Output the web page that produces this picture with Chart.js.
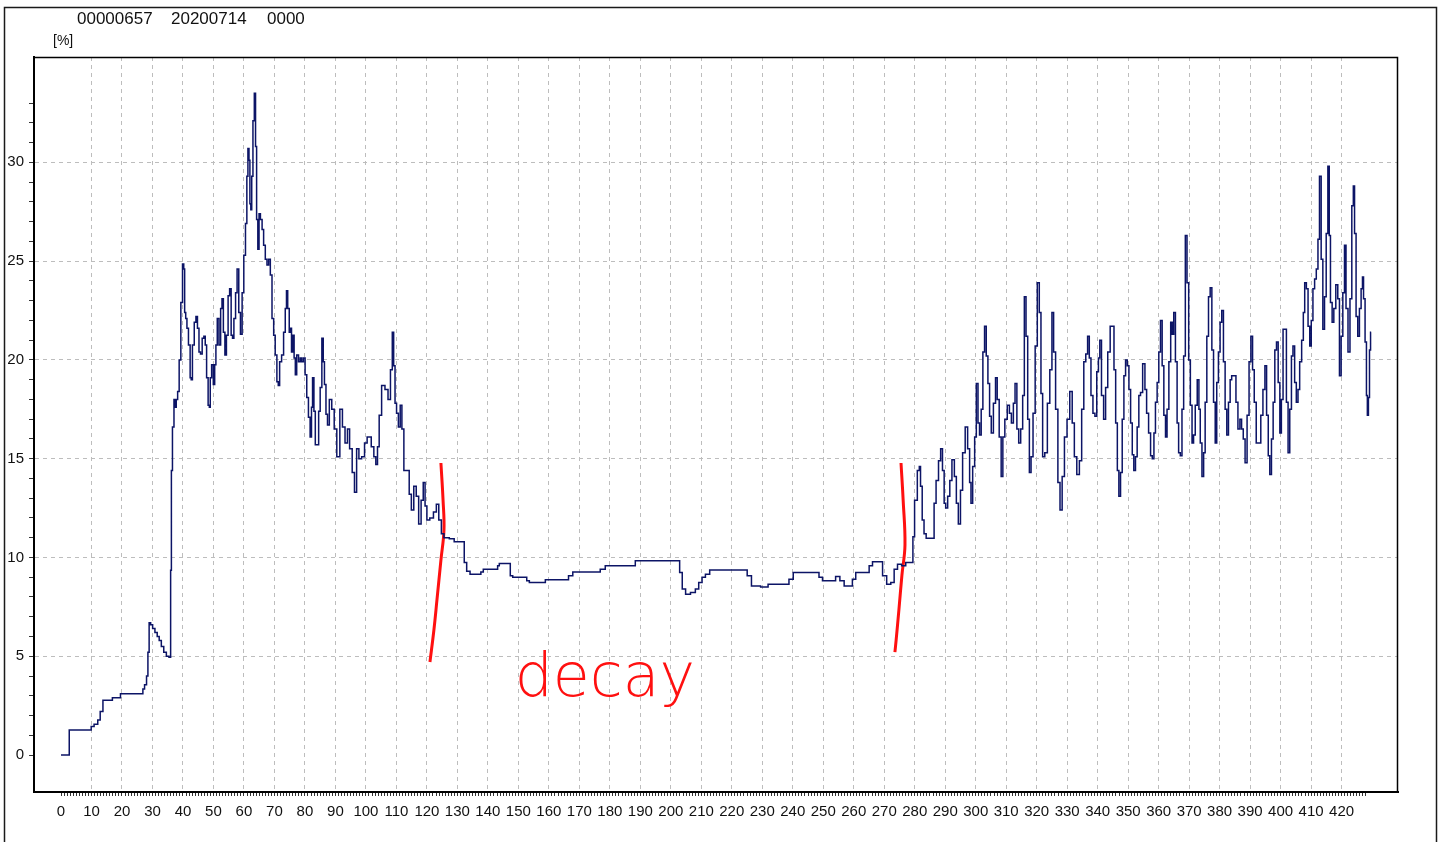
<!DOCTYPE html>
<html><head><meta charset="utf-8">
<script src="https://cdn.jsdelivr.net/npm/chart.js@4.4.1/dist/chart.umd.min.js"></script>
<style>html,body{margin:0;padding:0;background:#fff;overflow:hidden}canvas{display:block}</style>
</head><body>
<canvas id="c" width="1442" height="842"></canvas>
<script>
// ---- header / labels ----
const headerTexts = ['00000657', '20200714', '0000'];
const unitLabel = '[%]';
const annotationText = 'decay';

// ---- tick labels ----
const xTickLabels = [0,10,20,30,40,50,60,70,80,90,100,110,120,130,140,150,160,170,180,190,200,210,220,230,240,250,260,270,280,290,300,310,320,330,340,350,360,370,380,390,400,410,420];
const yTickLabels = [0,5,10,15,20,25,30];

// ---- series (x = sample index, y = %) ----
const riseX = [0, 2.6, 2.8, 9.8, 10.0, 11.7, 12.4, 13.3, 14.2, 16.6, 17.1, 18.8, 20.2, 26.7, 27.0, 27.8, 28.3, 28.7, 29.1, 29.7, 30.4, 31.2, 31.9, 32.5, 33.3, 34.1, 35.0, 35.8, 36.1];
const riseY = [0, 0, 1.27, 1.27, 1.45, 1.56, 1.78, 2.2, 2.78, 2.78, 2.9, 2.9, 3.1, 3.1, 3.34, 3.56, 4.0, 5.2, 6.7, 6.6, 6.4, 6.2, 6.0, 5.8, 5.5, 5.2, 5.0, 4.95, 9.35];

const surgeX = [36.3, 36.8, 37.3, 37.6, 38.0, 38.5, 39.0, 39.6, 40.1, 40.4,
  40.7, 41.1, 41.5, 42.1, 42.6, 42.8, 43.4, 44.0, 44.5, 45.0,
  45.5, 46.0, 46.6, 47.1, 47.5, 48.0, 48.5, 48.8, 49.1, 49.7,
  50.2, 50.6, 51.0, 51.5, 52.1, 52.6, 53.0, 53.5, 54.0, 54.5,
  55.1, 55.5, 56.1, 56.4, 57.0, 57.5, 58.0, 58.6, 59.1, 59.7,
  60.2, 60.8, 61.1, 61.5, 61.8, 62.1, 62.4, 62.7, 63.2, 63.6,
  64.0, 64.3, 64.8, 65.1, 65.7, 66.2, 66.7, 67.3, 67.8, 68.4,
  68.9, 69.5, 70.0, 70.5, 71.1, 71.4, 72.0, 72.7, 73.3, 73.8,
  74.1, 74.6, 75.1, 75.4, 75.8, 76.2, 76.7, 77.0, 77.6, 78.2,
  78.7, 79.2, 79.8, 80.3, 80.9, 81.4, 82.0, 82.3, 82.7, 83.2,
  83.6, 84.3, 84.7, 85.3, 85.8, 86.2, 86.6, 87.2, 87.6];
const surgeY = [14.4, 16.6, 18.0, 17.6, 18.0, 18.4, 20.0, 22.9, 24.85, 24.6,
  22.4, 22.1, 21.6, 20.75, 19.1, 19.0, 20.75, 21.9, 22.2, 21.6,
  20.4, 20.3, 21.1, 21.2, 20.75, 19.1, 17.7, 17.6, 19.1, 19.75,
  18.75, 19.75, 20.75, 22.1, 20.75, 22.6, 23.1, 21.4, 20.25, 21.25,
  23.25, 23.6, 21.25, 21.1, 22.1, 23.4, 24.6, 22.4, 21.3, 23.4,
  25.3, 26.9, 29.3, 30.7, 30.1, 27.9, 27.6, 29.3, 32.1, 33.5,
  30.8, 27.1, 25.6, 27.4, 27.1, 26.6, 25.8, 25.1, 24.8, 25.1,
  24.3, 22.1, 21.25, 20.25, 18.9, 18.7, 19.9, 20.25, 21.4, 22.6,
  23.5, 22.6, 21.4, 21.6, 20.4, 21.25, 20.1, 19.25, 20.25, 19.9,
  20.1, 19.9, 20.1, 19.25, 18.1, 17.1, 16.1, 17.6, 19.1, 17.4,
  15.7, 15.7, 17.4, 18.6, 21.1, 19.9, 18.75, 17.25, 16.7];

const declineX = [88.4, 89.2, 90.0, 90.9, 92.0, 92.6, 93.7, 94.2, 95.1, 95.9,
  96.6, 97.3, 98.1, 99.1, 100.0, 100.8, 101.3, 102.2, 103.0, 103.5,
  104.1, 104.6, 105.7, 106.8, 107.7, 108.4, 108.9, 109.3, 109.8, 110.3,
  111.0, 111.5, 112.1, 112.8, 113.9, 114.5, 115.3, 116.1, 116.9, 117.7,
  118.5, 119.1, 119.7, 120.3, 121.6, 122.7, 123.5, 124.3, 125.2, 126.0,
  128.7, 129.2, 132.0];
const declineY = [18.0, 17.5, 16.5, 15.1, 17.5, 16.6, 15.8, 16.5, 15.5, 14.3,
  13.3, 15.5, 15.0, 15.1, 15.8, 16.1, 16.1, 15.6, 15.1, 14.7,
  15.6, 17.2, 18.7, 18.5, 18.0, 19.5, 21.4, 19.7, 17.8, 17.3,
  16.6, 17.7, 16.5, 14.4, 14.4, 13.2, 12.4, 13.6, 13.1, 11.7,
  12.9, 13.8, 12.6, 11.9, 12.0, 12.3, 12.7, 11.9, 11.2, 11.0,
  10.95, 10.8, 10.8];

const decayX = [132.5, 133.6, 134.7, 137.4, 138.0, 139.0, 142.9, 143.5, 144.0, 146.8,
  147.9, 148.4, 152.2, 153.3, 153.9, 158.3, 159.4, 165.9, 167.0, 168.7,
  176.3, 177.4, 179.6, 187.8, 188.9, 202.6, 203.2, 204.3, 205.4, 207.5,
  208.6, 209.7, 210.8, 211.9, 213.6, 224.5, 225.6, 227.3, 231.6, 232.2,
  238.2, 239.3, 241.0, 248.0, 249.2, 250.3, 253.5, 254.6, 256.3, 257.4,
  259.0, 260.1, 261.2, 264.5, 265.6, 266.7, 268.9, 270.0, 271.6, 272.7,
  273.8, 274.9, 276.5, 277.6, 279.2];
const decayY = [9.75, 9.3, 9.15, 9.15, 9.27, 9.4, 9.4, 9.58, 9.7, 9.7,
  9.07, 9.0, 9.0, 8.82, 8.73, 8.73, 8.87, 8.87, 9.07, 9.27,
  9.27, 9.4, 9.58, 9.58, 9.83, 9.83, 9.24, 8.4, 8.14, 8.23,
  8.4, 8.73, 9.0, 9.15, 9.37, 9.37, 9.07, 8.56, 8.51, 8.65,
  8.65, 8.9, 9.24, 9.24, 9.0, 8.82, 8.82, 9.04, 8.82, 8.56,
  8.56, 8.9, 9.24, 9.24, 9.58, 9.78, 9.78, 9.07, 8.65, 8.73,
  9.4, 9.66, 9.58, 9.75, 9.75];

const recoveryX = [279.6, 280.3, 281.4, 281.6, 282.2, 282.7, 283.4, 284.1, 286.1, 286.6,
  287.4, 288.2, 288.8, 289.4, 289.9, 290.4, 291.2, 291.8, 292.6, 293.4,
  293.9, 294.7, 295.3, 296.1, 297.0, 297.7, 298.3, 298.6, 299.4, 299.9,
  300.5, 301.0, 301.5, 302.1, 302.6, 303.2, 303.7, 304.3, 304.8, 305.4,
  306.2, 306.8, 307.3, 308.1, 308.6, 309.2, 309.9, 310.8, 311.3, 312.1,
  312.6, 313.2, 313.8, 314.4, 315.1, 315.7, 316.2, 316.8, 317.3, 317.9,
  318.4, 319.2, 319.8, 320.6, 321.1, 321.7, 322.2, 323.1, 323.9, 324.7,
  325.3, 325.8, 326.6, 327.3, 328.0, 328.7, 329.5, 330.4, 331.3, 332.0,
  332.7, 333.6, 334.4, 335.1, 335.8, 336.4, 337.0, 337.5, 338.1, 338.8,
  339.4, 340.0, 340.5, 340.9, 341.6, 342.3, 342.9, 343.7, 344.5, 345.1,
  345.6, 346.2, 346.7, 347.2, 347.8, 348.3, 348.9, 349.4, 350.0, 350.5,
  351.1, 351.6, 352.1, 352.7, 353.2, 353.8];
const recoveryY = [11.05, 12.9, 14.4, 14.6, 13.6, 11.9, 11.2, 10.97, 10.97, 12.75,
  13.9, 14.9, 15.5, 14.4, 12.75, 12.5, 13.1, 13.9, 14.95, 14.1,
  12.75, 11.7, 13.4, 15.3, 16.6, 15.5, 13.8, 12.75, 14.6, 16.1,
  18.8, 16.8, 16.2, 17.5, 20.4, 21.7, 20.2, 18.8, 17.15, 16.3,
  17.8, 19.1, 18.0, 16.1, 14.1, 16.1, 17.0, 17.7, 17.3, 16.8,
  17.8, 18.8, 16.5, 15.8, 16.5, 18.2, 23.2, 21.2, 17.0, 14.3,
  15.1, 17.3, 20.7, 23.9, 22.4, 18.3, 15.1, 15.3, 17.8, 19.5,
  22.4, 20.4, 17.5, 13.8, 12.4, 14.1, 16.1, 17.0, 18.4, 16.8,
  15.1, 14.2, 14.9, 17.5, 19.9, 20.3, 21.2, 20.1, 18.2, 17.3,
  17.15, 19.4, 20.1, 21.0, 18.2, 17.0, 18.6, 20.4, 21.7, 21.7,
  19.5, 16.8, 14.4, 13.1, 14.3, 17.0, 19.2, 20.0, 19.7, 18.5,
  16.8, 15.2, 14.4, 15.1, 16.6, 18.2];

const finalX = [354.3, 355.2, 355.8, 356.3, 357.1, 357.6, 358.2, 358.7, 359.2, 359.8,
  360.3, 360.9, 361.4, 362.0, 362.5, 363.0, 363.7, 364.2, 364.7, 365.2,
  365.8, 366.3, 366.8, 367.4, 367.9, 368.5, 369.0, 369.6, 370.1, 370.7,
  371.2, 371.7, 372.3, 373.0, 373.4, 373.9, 374.5, 375.0, 375.5, 376.1,
  376.6, 377.2, 377.7, 378.3, 378.8, 379.3, 379.9, 380.4, 381.0, 381.5,
  382.1, 382.6, 383.2, 383.7, 384.2, 385.1, 385.6, 386.4, 386.9, 387.5,
  388.0, 388.7, 389.3, 390.0, 390.5, 391.1, 391.6, 392.4, 393.2, 393.8,
  394.6, 395.1, 395.7, 396.2, 396.7, 397.3, 397.8, 398.4, 398.9, 399.5,
  400.0, 400.5, 401.1, 401.6, 402.2, 402.7, 403.3, 403.8, 404.3, 404.9,
  405.4, 406.0, 406.5, 407.3, 407.6, 408.2, 408.7, 409.3, 409.8, 410.3,
  410.9, 411.4, 412.0, 412.5, 413.0, 413.6, 414.1, 414.7, 415.2, 415.8,
  416.1, 416.6, 417.2, 417.7, 418.5, 419.0, 419.6, 420.1, 420.7, 421.2,
  421.7, 422.5, 423.0, 423.7, 424.0, 424.5, 425.0, 425.6, 426.1, 426.7,
  427.0, 427.4, 428.0, 428.3, 428.6, 429.0, 429.3, 429.7];
const finalY = [18.35, 19.8, 18.5, 17.3, 16.3, 15.15, 15.0, 16.3, 17.85, 18.85,
  20.4, 22.0, 19.7, 17.2, 16.1, 17.5, 19.9, 21.9, 21.3, 22.4,
  19.9, 16.8, 15.3, 15.15, 17.5, 20.2, 26.3, 23.9, 20.0, 17.7,
  15.8, 16.2, 17.7, 19.0, 17.5, 15.8, 14.1, 15.3, 17.85, 21.2,
  23.2, 23.65, 20.5, 17.85, 15.8, 18.85, 20.4, 21.9, 22.5, 19.9,
  17.5, 16.2, 17.85, 19.0, 19.2, 19.2, 17.85, 16.5, 17.0, 16.5,
  16.0, 14.8, 17.2, 19.9, 21.2, 19.5, 17.85, 15.8, 15.8, 17.2,
  18.5, 19.7, 17.2, 15.15, 14.2, 16.0, 17.85, 20.5, 20.9, 18.85,
  16.3, 18.0, 21.55, 21.55, 17.85, 15.3, 17.5, 20.2, 20.7, 18.85,
  17.85, 18.5, 19.9, 21.0, 22.4, 23.9, 23.6, 21.7, 20.7, 22.0,
  23.6, 24.1, 24.6, 26.1, 29.3, 25.1, 21.55, 23.2, 26.4, 29.8,
  26.3, 22.9, 21.9, 22.6, 23.8, 23.1, 19.2, 21.2, 23.4, 25.8,
  22.6, 20.4, 23.1, 27.8, 28.8, 26.4, 22.2, 21.2, 22.6, 23.6,
  24.2, 23.1, 20.9, 18.2, 17.2, 18.1, 20.5, 21.4];

// ---- hand-drawn annotation strokes (data coordinates) ----
const cutLeftX = [124.6, 125.3, 125.6, 124.6, 123.3, 122.3, 121.0];
const cutLeftY = [14.78, 12.9, 11.39, 9.87, 7.85, 6.33, 4.71];
const cutRightX = [275.5, 276.2, 276.8, 275.8, 274.8, 273.9, 273.5];
const cutRightY = [14.78, 12.9, 10.63, 9.11, 7.34, 5.82, 5.21];
const annotationAt = [148.8, 3.0];

// ---- build ----
const segX = [riseX, surgeX, declineX, decayX, recoveryX, finalX];
const segY = [riseY, surgeY, declineY, decayY, recoveryY, finalY];
const seriesPoints = [];
segX.forEach((xs, s) => xs.forEach((x, i) => seriesPoints.push({x: x, y: segY[s][i]})));
const toPts = (xs, ys) => xs.map((x, i) => ({x: x, y: ys[i]}));

const xAllTicks = [];
for (let v = 0; v <= 428; v++) xAllTicks.push(v);
const yAllTicks = [];
for (let v = 0; v <= 33; v++) yAllTicks.push(v);

const GRID = '#bdbdbd';
const FONT = 'Liberation Sans, Arial, sans-serif';

const decorPlugin = {
  id: 'decor',
  beforeDraw(chart) {
    const ctx = chart.ctx;
    ctx.save();
    ctx.fillStyle = '#fff';
    ctx.fillRect(0, 0, chart.width, chart.height);
    ctx.restore();
  },
  afterDraw(chart) {
    const ctx = chart.ctx;
    const a = chart.chartArea;
    const sx = chart.scales.x, sy = chart.scales.y;
    ctx.save();
    // outer window frame
    ctx.strokeStyle = '#1a1a1a';
    ctx.lineWidth = 1.5;
    ctx.strokeRect(4.5, 7.5, 1432, 845);
    // plot frame (top/right)
    ctx.lineWidth = 1.5;
    ctx.strokeStyle = '#000';
    ctx.beginPath();
    ctx.moveTo(a.left, a.top + 0.5);
    ctx.lineTo(a.right - 0.5, a.top + 0.5);
    ctx.lineTo(a.right - 0.5, a.bottom);
    ctx.stroke();
    // header
    ctx.fillStyle = '#111';
    ctx.textBaseline = 'alphabetic';
    ctx.font = '17px ' + FONT;
    const hx = [77, 171, 267];
    headerTexts.forEach((t, i) => ctx.fillText(t, hx[i], 24));
    ctx.font = '14px ' + FONT;
    ctx.fillText(unitLabel, 53, 45);
    // annotation word
    ctx.fillStyle = '#ff1010';
    ctx.font = '200 60px "DejaVu Sans", sans-serif';
    ctx.fillText(annotationText, sx.getPixelForValue(annotationAt[0]), sy.getPixelForValue(annotationAt[1]));
    ctx.restore();
  }
};

new Chart(document.getElementById('c'), {
  type: 'line',
  data: {
    datasets: [
      {data: seriesPoints, borderColor: '#0c1466', borderWidth: 1.5, pointRadius: 0, stepped: 'middle', fill: false},
      {data: toPts(cutLeftX, cutLeftY), borderColor: '#ff1010', borderWidth: 3, pointRadius: 0, tension: 0.4, fill: false},
      {data: toPts(cutRightX, cutRightY), borderColor: '#ff1010', borderWidth: 3, pointRadius: 0, tension: 0.4, fill: false}
    ]
  },
  options: {
    responsive: false,
    animation: false,
    devicePixelRatio: 1,
    layout: {padding: {left: 0, top: 57, right: 44, bottom: 0}},
    plugins: {legend: {display: false}, tooltip: {enabled: false}},
    scales: {
      x: {
        type: 'linear', min: -8.86, max: 438.5,
        afterBuildTicks: s => { s.ticks = xAllTicks.map(v => ({value: v})); },
        afterFit: s => { s.height = 50; },
        ticks: {autoSkip: false, maxRotation: 0, minRotation: 0, padding: 7, color: '#111',
          font: {family: FONT, size: 15},
          callback: v => (xTickLabels.includes(v) ? String(v) : '')},
        grid: {
          color: c => (c.tick && c.tick.value > 0 && xTickLabels.includes(c.tick.value)) ? GRID : 'rgba(0,0,0,0)',
          lineWidth: 1, drawTicks: true, tickLength: 4, tickColor: '#333', tickWidth: 1
        },
        border: {display: true, color: '#000', width: 2, dash: [4, 4]}
      },
      y: {
        type: 'linear', min: -1.87, max: 35.33,
        afterBuildTicks: s => { s.ticks = yAllTicks.map(v => ({value: v})); },
        afterFit: s => { s.width = 34; },
        ticks: {autoSkip: false, padding: 5, color: '#111',
          font: {family: FONT, size: 15},
          callback: v => (yTickLabels.includes(v) ? String(v) : '')},
        grid: {
          color: c => (c.tick && c.tick.value > 0 && yTickLabels.includes(c.tick.value)) ? GRID : 'rgba(0,0,0,0)',
          lineWidth: 1, drawTicks: true, tickLength: 5, tickColor: '#333', tickWidth: 1
        },
        border: {display: true, color: '#000', width: 2, dash: [4, 4]}
      }
    }
  },
  plugins: [decorPlugin]
});
</script>
</body></html>
